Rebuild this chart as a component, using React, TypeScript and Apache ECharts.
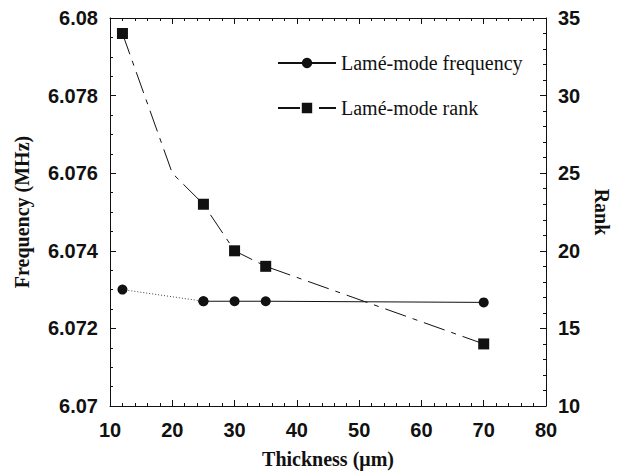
import React, { useEffect, useRef } from "react";
import * as echarts from "echarts";

const thickness = [12, 25, 30, 35, 70];
const frequency = [6.073, 6.0727, 6.0727, 6.0727, 6.07267];
const rankX = [12, 20, 25, 30, 35, 70];
const rankValues = [34, 25, 23, 20, 19, 14];
const rankHasMarker = [true, false, true, true, true, true];
const xTicks = { min: 10, max: 80, step: 10 };
const freqTicks = { min: 6.07, max: 6.08, step: 0.002 };
const rankTicks = { min: 10, max: 35, step: 5 };
const legendNames = ["Lamé-mode frequency", "Lamé-mode rank"];

const SANS = "'Liberation Sans', Arial, sans-serif";
const SERIF = "'Liberation Serif', 'Times New Roman', serif";
const INK = "#111";

export default function App() {
  const ref = useRef<HTMLDivElement>(null);
  useEffect(() => {
    if (!ref.current) return;
    const chart = echarts.init(ref.current, null, { renderer: "svg" });
    const tickLabel = { fontFamily: SANS, fontWeight: "bold", fontSize: 20, color: INK };
    const axisCommon = {
      axisLine: { show: true, lineStyle: { color: INK, width: 1 } },
      axisTick: { show: true, inside: true, length: 6, lineStyle: { color: INK } },
      minorTick: { show: true, length: 3, lineStyle: { color: INK } },
      splitLine: { show: false },
      minorSplitLine: { show: false },
    };
    const freqSolid = thickness.map((t, i) => [t, frequency[i]]).slice(1);
    const freqDotted = thickness.map((t, i) => [t, frequency[i]]).slice(0, 2);
    const rankData = rankX.map((t, i) =>
      rankHasMarker[i] ? [t, rankValues[i]] : { value: [t, rankValues[i]], symbol: "none" }
    );
    chart.setOption({
      animation: false,
      backgroundColor: "#fff",
      grid: { left: 110, right: 79, top: 18, bottom: 68 },
      legend: {
        data: legendNames,
        orient: "vertical",
        left: 272,
        top: 48,
        itemWidth: 58,
        itemHeight: 13,
        itemGap: 25,
        textStyle: { fontFamily: SERIF, fontSize: 20, color: INK },
      },
      xAxis: [
        {
          type: "value",
          min: xTicks.min,
          max: xTicks.max,
          interval: xTicks.step,
          position: "bottom",
          name: "Thickness (μm)",
          nameLocation: "middle",
          nameGap: 43,
          nameTextStyle: { fontFamily: SERIF, fontWeight: "bold", fontSize: 20, color: INK },
          axisLabel: { ...tickLabel, margin: 14 },
          ...axisCommon,
          minorTick: { ...axisCommon.minorTick, splitNumber: 5 },
        },
        {
          type: "value",
          min: xTicks.min,
          max: xTicks.max,
          interval: xTicks.step,
          position: "top",
          axisLabel: { show: false },
          ...axisCommon,
          minorTick: { ...axisCommon.minorTick, splitNumber: 5 },
        },
      ],
      yAxis: [
        {
          type: "value",
          min: freqTicks.min,
          max: freqTicks.max,
          interval: freqTicks.step,
          position: "left",
          name: "Frequency (MHz)",
          nameLocation: "middle",
          nameGap: 78,
          nameTextStyle: { fontFamily: SERIF, fontWeight: "bold", fontSize: 20, color: INK },
          axisLabel: {
            ...tickLabel,
            margin: 12,
            formatter: (v: number) => String(parseFloat(v.toFixed(3))),
          },
          ...axisCommon,
          minorTick: { ...axisCommon.minorTick, splitNumber: 4 },
        },
        {
          type: "value",
          min: rankTicks.min,
          max: rankTicks.max,
          interval: rankTicks.step,
          position: "right",
          name: "Rank",
          nameLocation: "middle",
          nameGap: 46,
          nameRotate: -90,
          nameTextStyle: { fontFamily: SERIF, fontWeight: "bold", fontSize: 20, color: INK },
          axisLabel: { ...tickLabel, margin: 12 },
          ...axisCommon,
          minorTick: { ...axisCommon.minorTick, splitNumber: 5 },
        },
      ],
      series: [
        {
          name: legendNames[0],
          type: "line",
          xAxisIndex: 0,
          yAxisIndex: 0,
          data: freqSolid,
          symbol: "circle",
          symbolSize: 10,
          itemStyle: { color: INK },
          lineStyle: { color: INK, width: 1, type: "solid" },
          z: 3,
        },
        {
          name: "freq-dotted",
          type: "line",
          xAxisIndex: 0,
          yAxisIndex: 0,
          data: freqDotted,
          symbol: "circle",
          symbolSize: 10,
          itemStyle: { color: INK },
          lineStyle: { color: "#444", width: 1, type: [1, 2] },
          z: 3,
        },
        {
          name: legendNames[1],
          type: "line",
          xAxisIndex: 0,
          yAxisIndex: 1,
          data: rankData,
          symbol: "rect",
          symbolSize: 11,
          itemStyle: { color: INK },
          lineStyle: { color: INK, width: 1, type: [22, 7, 5, 7] },
          z: 2,
        },
      ],
    });
    return () => chart.dispose();
  }, []);
  return (
    <div
      ref={ref}
      style={{ position: "fixed", left: 0, top: 0, width: 625, height: 474 }}
    />
  );
}
